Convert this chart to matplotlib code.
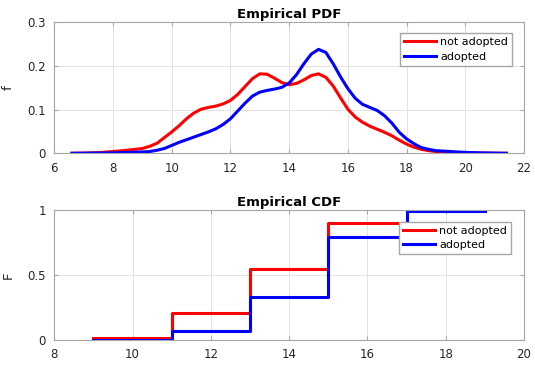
import numpy as np
import matplotlib
matplotlib.use("Agg")
import matplotlib.pyplot as plt

# Densidade empirica (ksdensity) dos dois grupos
x_pdf = [6.6, 7.0, 7.5, 8.0, 8.5, 9.0, 9.25, 9.5, 9.75, 10.0, 10.25, 10.5, 10.75,
         11.0, 11.25, 11.5, 11.75, 12.0, 12.25, 12.5, 12.75, 13.0, 13.25, 13.5,
         13.75, 14.0, 14.25, 14.5, 14.75, 15.0, 15.25, 15.5, 15.75, 16.0, 16.25,
         16.5, 16.75, 17.0, 17.25, 17.5, 17.75, 18.0, 18.25, 18.5, 18.75, 19.0,
         19.5, 20.0, 20.5, 21.0, 21.4]
f_nao = [0.0, 0.0005, 0.0015, 0.004, 0.007, 0.011, 0.016, 0.023, 0.036, 0.049,
         0.063, 0.079, 0.092, 0.101, 0.105, 0.108, 0.113, 0.121, 0.135, 0.153,
         0.171, 0.182, 0.181, 0.172, 0.162, 0.157, 0.160, 0.168, 0.178, 0.182,
         0.174, 0.154, 0.127, 0.101, 0.083, 0.071, 0.062, 0.055, 0.048, 0.040,
         0.030, 0.021, 0.014, 0.009, 0.006, 0.004, 0.002, 0.001, 0.0005, 0.0002, 0.0]
f_sim = [0.0, 0.0002, 0.0005, 0.001, 0.002, 0.003, 0.004, 0.007, 0.011, 0.018,
         0.025, 0.031, 0.037, 0.043, 0.049, 0.056, 0.066, 0.079, 0.097, 0.115,
         0.131, 0.140, 0.144, 0.147, 0.151, 0.161, 0.180, 0.205, 0.227, 0.238,
         0.231, 0.205, 0.175, 0.148, 0.126, 0.112, 0.105, 0.098, 0.086, 0.069,
         0.048, 0.033, 0.022, 0.013, 0.009, 0.006, 0.004, 0.002, 0.001, 0.0004, 0.0]

# Distribuicao acumulada empirica (degraus)
x_cdf = [9, 11, 13, 15, 17, 19]
F_nao = [0.013, 0.205, 0.55, 0.897, 0.998, 0.998]
F_sim = [0.003, 0.072, 0.333, 0.795, 0.99, 0.99]

rotulos = ['not adopted', 'adopted']
cor_nao = '#ff0000'
cor_sim = '#0000ff'

plt.rcParams.update({'font.family': 'DejaVu Sans', 'font.size': 8.5})
borda = '#a6a6a6'
texto = '#262626'

fig = plt.figure(figsize=(5.35, 3.69), dpi=100)
ax1 = fig.add_axes([0.1015, 0.5846, 0.878, 0.355])
ax2 = fig.add_axes([0.1015, 0.0786, 0.878, 0.352])

def estilo(ax):
    ax.grid(True, color='#e3e3e3', linewidth=0.7)
    ax.set_axisbelow(True)
    for s in ax.spines.values():
        s.set_color(borda)
        s.set_linewidth(0.8)
    ax.tick_params(direction='in', top=True, right=True, length=3,
                   color=borda, labelcolor=texto, labelsize=8.5, pad=6)

def legenda(ax, ancora):
    ax.legend(loc='upper right', bbox_to_anchor=ancora, borderaxespad=0,
              fancybox=False, edgecolor=borda, framealpha=1, fontsize=8,
              handlelength=2.85, handletextpad=0.4, labelspacing=0.4,
              borderpad=0.35)

# PDF
ax1.plot(x_pdf, f_nao, color=cor_nao, linewidth=2.2, label=rotulos[0])
ax1.plot(x_pdf, f_sim, color=cor_sim, linewidth=2.2, label=rotulos[1])
ax1.set_xlim(6, 22)
ax1.set_ylim(0, 0.3)
ax1.set_xticks(np.arange(6, 23, 2))
ax1.set_yticks([0, 0.1, 0.2, 0.3])
ax1.set_yticklabels(['0', '0.1', '0.2', '0.3'])
ax1.set_title('Empirical PDF', fontsize=9.5, fontweight='bold', pad=3)
ax1.set_ylabel('f', fontsize=9.5, color=texto)
ax1.yaxis.set_label_coords(-0.084, 0.5)
estilo(ax1)
legenda(ax1, (0.974, 0.915))

# CDF
ax2.step(x_cdf, F_nao, where='post', color=cor_nao, linewidth=2.2, label=rotulos[0])
ax2.step(x_cdf, F_sim, where='post', color=cor_sim, linewidth=2.2, label=rotulos[1])
ax2.set_xlim(8, 20)
ax2.set_ylim(0, 1)
ax2.set_xticks(np.arange(8, 21, 2))
ax2.set_yticks([0, 0.5, 1])
ax2.set_yticklabels(['0', '0.5', '1'])
ax2.set_title('Empirical CDF', fontsize=9.5, fontweight='bold', pad=3)
ax2.set_ylabel('F', fontsize=9.5, color=texto)
ax2.yaxis.set_label_coords(-0.084, 0.5)
estilo(ax2)
legenda(ax2, (0.972, 0.91))

fig.savefig('out.png', dpi=100)
